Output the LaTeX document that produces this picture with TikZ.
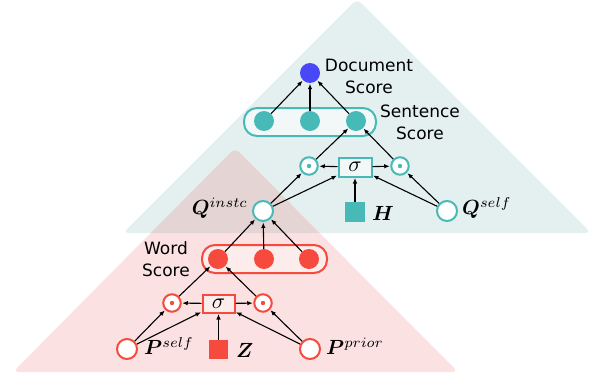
\documentclass[tikz,border=0pt]{standalone}
\usepackage{fontspec}
\usepackage{amsmath}
\usepackage{bm}
\usepackage{graphicx}
\newfontfamily\lblfont{DejaVu Sans}
\usetikzlibrary{arrows.meta}
\definecolor{tealc}{HTML}{47BAB8}
\definecolor{redc}{HTML}{F54A3D}
\definecolor{bluec}{HTML}{4848F8}
\definecolor{tealbg}{HTML}{E4EFEF}
\definecolor{redtint}{RGB}{230,80,80}
\definecolor{tboxbg}{HTML}{F2F8F8}
\definecolor{rboxbg}{HTML}{FCECEC}
\newcommand{\mybigmath}[1]{\scalebox{2.05}{$#1$}}
\begin{document}
\begin{tikzpicture}[x=1pt,y=-1pt,
  arr/.style={-{Latex[length=5.5pt,width=4.5pt]}, line width=1.1pt, black, shorten >=0.5pt},
  tsolid/.style={circle, fill=tealc, minimum size=20pt, inner sep=0pt},
  rsolid/.style={circle, fill=redc, minimum size=20pt, inner sep=0pt},
  topen/.style={circle, draw=tealc, line width=2pt, fill=white, minimum size=20pt, inner sep=0pt},
  ropen/.style={circle, draw=redc, line width=2pt, fill=white, minimum size=20pt, inner sep=0pt},
  tdot/.style={circle, draw=tealc, line width=2pt, fill=white, minimum size=17.5pt, inner sep=0pt,
     path picture={\fill[tealc] (path picture bounding box.center) circle (2.2pt);}},
  rdot/.style={circle, draw=redc, line width=2pt, fill=white, minimum size=17.5pt, inner sep=0pt,
     path picture={\fill[redc] (path picture bounding box.center) circle (2.2pt);}},
  tsig/.style={draw=tealc, line width=2pt, fill=tboxbg, minimum width=33pt, minimum height=19pt, inner sep=0pt},
  rsig/.style={draw=redc, line width=2pt, fill=rboxbg, minimum width=32pt, minimum height=18pt, inner sep=0pt},
  tsq/.style={fill=tealc, minimum size=20pt, inner sep=0pt},
  rsq/.style={fill=redc, minimum size=19pt, inner sep=0pt},
  lbl/.style={font=\lblfont\fontsize{17}{22}\selectfont, align=center, inner sep=0pt},
  mlbl/.style={inner sep=0pt}
]
\useasboundingbox (0,0) rectangle (589,380);
% background triangles
\fill[tealbg, rounded corners=6pt] (123,233) -- (357,-1) -- (591,233) -- cycle;
\fill[redtint, fill opacity=0.17, rounded corners=6pt] (13,372) -- (235,148) -- (458,372) -- cycle;

% group boxes
\draw[tealc, line width=2pt, fill=tboxbg, rounded corners=13pt] (244,108) rectangle (376,136);
\draw[redc, line width=2pt, fill=rboxbg, rounded corners=13pt] (202,245) rectangle (327,273);

% upper part
\node[circle, fill=bluec, minimum size=20pt, inner sep=0pt] (doc) at (310,73) {};
\node[tsolid] (s1) at (264,121) {};
\node[tsolid] (s2) at (310,121) {};
\node[tsolid] (s3) at (356,121) {};
\node[tdot] (td1) at (309,166) {};
\node[tdot] (td2) at (400,166) {};
\node[tsig] (tsg) at (355,167) {\scalebox{2.2}{$\sigma$}};
\node[topen] (qi) at (263,211) {};
\node[topen] (qs) at (447,211) {};
\node[tsq] (h) at (355,212) {};

\node[lbl] (ldoc) at (369,76) {Document\\Score};
\node[lbl] (lsent) at (420,122) {Sentence\\Score};
\node[mlbl, anchor=east] (lqi) at (248,208) {\mybigmath{\bm{Q}^{instc}}};
\node[mlbl, anchor=west] (lqs) at (462,208) {\mybigmath{\bm{Q}^{self}}};
\node[mlbl, anchor=west] (lh) at (372,213) {\mybigmath{\bm{H}}};

\draw[arr] (s1) -- (doc);
\draw[arr] (s2) -- (doc);
\draw[arr] (s3) -- (doc);
\draw[arr] (td1) -- (s3);
\draw[arr] (td2) -- (s3);
\draw[arr] (tsg) -- (td1);
\draw[arr] (tsg) -- (td2);
\draw[arr] (h) -- (tsg);
\draw[arr] (qi) -- (td1);
\draw[arr] (qi) -- (tsg);
\draw[arr] (qs) -- (td2);
\draw[arr] (qs) -- (tsg);

% lower part
\node[rsolid] (w1) at (218,259) {};
\node[rsolid] (w2) at (264,259) {};
\node[rsolid] (w3) at (309,259) {};
\node[rdot] (rd1) at (172,303) {};
\node[rdot] (rd2) at (263,303) {};
\node[rsig] (rsg) at (218.5,303.5) {\scalebox{2.2}{$\sigma$}};
\node[ropen] (ps) at (127,349) {};
\node[ropen] (pp) at (310,349) {};
\node[rsq] (z) at (218.5,349.5) {};

\node[lbl] (lword) at (166,259) {Word\\Score};
\node[mlbl, anchor=west] (lps) at (144,346) {\mybigmath{\bm{P}^{self}}};
\node[mlbl, anchor=west] (lpp) at (326,346) {\mybigmath{\bm{P}^{prior}}};
\node[mlbl, anchor=west] (lz) at (236,350) {\mybigmath{\bm{Z}}};

\draw[arr] (w1) -- (qi);
\draw[arr] (w2) -- (qi);
\draw[arr] (w3) -- (qi);
\draw[arr] (rd1) -- (w1);
\draw[arr] (rd2) -- (w1);
\draw[arr] (rsg) -- (rd1);
\draw[arr] (rsg) -- (rd2);
\draw[arr] (z) -- (rsg);
\draw[arr] (ps) -- (rd1);
\draw[arr] (ps) -- (rsg);
\draw[arr] (pp) -- (rd2);
\draw[arr] (pp) -- (rsg);
\end{tikzpicture}
\end{document}
